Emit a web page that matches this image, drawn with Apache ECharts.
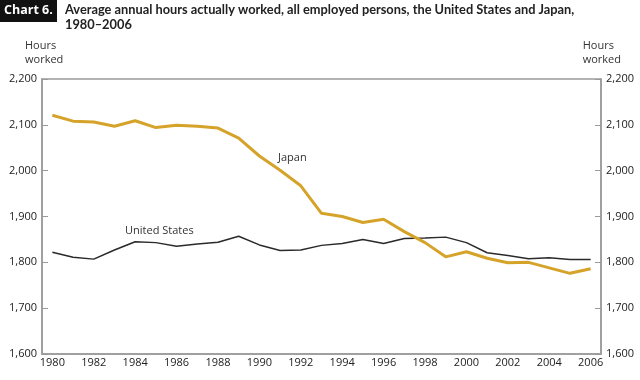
<!DOCTYPE html>
<html><head><meta charset="utf-8">
<script src="https://cdn.jsdelivr.net/npm/echarts@6/dist/echarts.min.js"></script>
<style>html,body{margin:0;padding:0;background:#fff}#c{width:640px;height:380px}</style>
</head><body><div id="c"></div>
<script>
const years = ['1980','1981','1982','1983','1984','1985','1986','1987','1988','1989','1990','1991','1992','1993','1994','1995','1996','1997','1998','1999','2000','2001','2002','2003','2004','2005','2006'];
const japan = [2121,2108,2106,2097,2109,2094,2099,2097,2093,2071,2032,2001,1967,1907,1900,1887,1894,1867,1843,1812,1823,1809,1799,1800,1788,1776,1786];
const unitedStates = [1822,1811,1807,1827,1845,1843,1835,1840,1844,1857,1838,1826,1827,1837,1841,1850,1841,1852,1853,1855,1843,1821,1815,1808,1810,1806,1806];
const yTicks = [1600,1700,1800,1900,2000,2100,2200];
const titleText = 'Average annual hours actually worked, all employed persons, the United States and Japan,';
const titleText2 = '1980\u20132006';

const chart = echarts.init(document.getElementById('c'));
const fmt = v => Number(v).toLocaleString('en-US');
const axisColor = '#9a9a9a';
const yBase = {
  type: 'value', min: yTicks[0], max: yTicks[yTicks.length-1], interval: 100,
  splitLine: {show: false},
  axisLine: {show: true, lineStyle: {color: axisColor, width: 1.5}},
  axisTick: {show: true, inside: true, length: 6, lineStyle: {color: axisColor}},
  axisLabel: {formatter: fmt, color: '#222', fontSize: 11, fontFamily: 'Open Sans', margin: 5}
};
chart.setOption({
  animation: false,
  grid: {left: 42, right: 39, top: 79, bottom: 26, show: true, borderColor: axisColor, borderWidth: 1.5},
  xAxis: {
    type: 'category', data: years, boundaryGap: true,
    axisLine: {lineStyle: {color: axisColor, width: 1.5}},
    axisTick: {inside: true, length: 6, interval: 1, alignWithLabel: true, lineStyle: {color: '#666'}},
    axisLabel: {interval: 1, color: '#222', fontSize: 11, fontFamily: 'Open Sans', margin: 3}
  },
  yAxis: [
    Object.assign({}, yBase, {position: 'left'}),
    Object.assign({}, yBase, {position: 'right'})
  ],
  series: [
    {name: 'Japan', type: 'line', data: japan, symbol: 'none', lineStyle: {color: '#D6A32A', width: 3}, z: 3},
    {name: 'United States', type: 'line', data: unitedStates, symbol: 'none', lineStyle: {color: '#2a2a2a', width: 1.5}, z: 2}
  ],
  graphic: [
    {type: 'rect', left: 0, top: 0, shape: {width: 57, height: 22}, style: {fill: '#111'}},
    {type: 'text', left: 4, top: 4, style: {text: 'Chart 6.', fill: '#fff', font: 'bold 12.5px "Open Sans"'}},
    {type: 'text', left: 65, top: 3, style: {text: titleText, fill: '#222', font: 'bold 12.8px "Lato"'}},
    {type: 'text', left: 65, top: 18, style: {text: titleText2, fill: '#222', font: 'bold 12.8px "Lato"'}},
    {type: 'text', left: 25, top: 39, style: {text: 'Hours\nworked', fill: '#333', font: '11px "Open Sans"', align: 'center', lineHeight: 14}},
    {type: 'text', right: 19, top: 39, style: {text: 'Hours\nworked', fill: '#333', font: '11px "Open Sans"', align: 'center', lineHeight: 14}},
    {type: 'text', left: 278, top: 152, style: {text: 'Japan', fill: '#333', font: '11px "Open Sans"'}},
    {type: 'text', left: 125, top: 225, style: {text: 'United States', fill: '#333', font: '11px "Open Sans"'}}
  ]
});
</script></body></html>
